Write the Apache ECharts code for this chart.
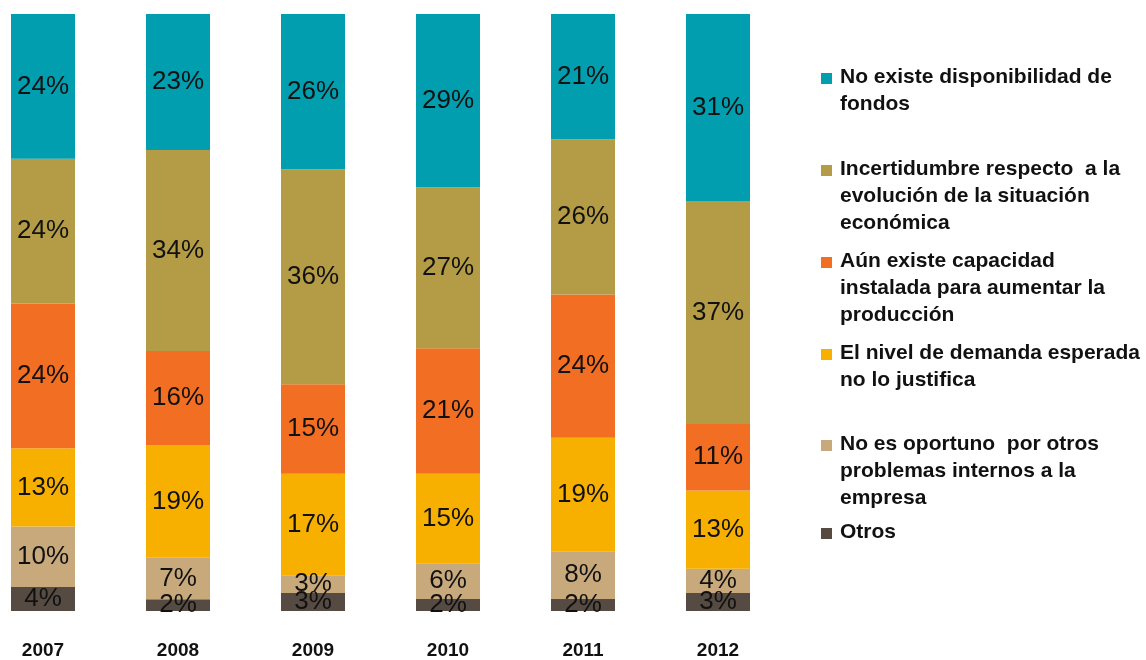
<!DOCTYPE html>
<html><head><meta charset="utf-8">
<script src="https://cdn.jsdelivr.net/npm/echarts@6/dist/echarts.min.js"></script>
<style>html,body{margin:0;padding:0;background:#fff}#c{width:1146px;height:660px}</style>
</head><body><div id="c"></div>
<script>
const years = ['2007','2008','2009','2010','2011','2012'];
const seriesNames = [
  'Otros',
  'No es oportuno por otros problemas internos a la empresa',
  'El nivel de demanda esperada no lo justifica',
  'Aún existe capacidad instalada para aumentar la producción',
  'Incertidumbre respecto a la evolución de la situación económica',
  'No existe disponibilidad de fondos'
];
const otros        = [4, 2, 3, 2, 2, 3];
const noOportuno   = [10, 7, 3, 6, 8, 4];
const nivelDemanda = [13, 19, 17, 15, 19, 13];
const capacidad    = [24, 16, 15, 21, 24, 11];
const incertidumbre= [24, 34, 36, 27, 26, 37];
const fondos       = [24, 23, 26, 29, 21, 31];
const colors = ['#554B42', '#C8A97C', '#F8B000', '#F26E22', '#B39C45', '#009EAF'];
const legendLines = [
  ['No existe disponibilidad de', 'fondos'],
  ['Incertidumbre respecto  a la', 'evolución de la situación', 'económica'],
  ['Aún existe capacidad', 'instalada para aumentar la', 'producción'],
  ['El nivel de demanda esperada', 'no lo justifica'],
  ['No es oportuno  por otros', 'problemas internos a la', 'empresa'],
  ['Otros']
];
const legendColors = ['#009EAF', '#B39C45', '#F26E22', '#F8B000', '#C8A97C', '#554B42'];
const legendTops = [79, 171, 263, 355, 446, 534];

const all = [otros, noOportuno, nivelDemanda, capacidad, incertidumbre, fondos];
const totals = years.map((_, i) => all.reduce((s, a) => s + a[i], 0));

const series = all.map((arr, k) => ({
  name: seriesNames[k],
  type: 'bar',
  stack: 'total',
  barWidth: 64,
  clip: false,
  itemStyle: { color: colors[k] },
  data: arr.map((v, i) => ({ value: v / totals[i] * 100, raw: v })),
  label: {
    show: true,
    position: 'inside',
    formatter: p => p.data.raw + '%',
    color: '#111',
    fontFamily: '"Liberation Sans", Arial, sans-serif',
    fontSize: 26
  }
}));

const graphic = [];
legendLines.forEach((lines, i) => {
  graphic.push({ type: 'rect', left: 821, top: legendTops[i] - 6, shape: { width: 11, height: 11 }, style: { fill: legendColors[i] } });
  lines.forEach((t, j) => {
    graphic.push({ type: 'text', left: 840, top: legendTops[i] + j * 27 - 12,
      style: { text: t, fill: '#111', font: 'bold 21px "Liberation Sans", Arial, sans-serif' } });
  });
});

const chart = echarts.init(document.getElementById('c'), null, { renderer: 'canvas' });
chart.setOption({
  animation: false,
  grid: { left: 43, right: 428, top: 14, bottom: 47 },
  xAxis: {
    type: 'category', data: years, boundaryGap: false,
    axisLine: { show: false }, axisTick: { show: false },
    axisLabel: { color: '#111', fontWeight: 'bold', fontSize: 19, margin: 30, fontFamily: '"Liberation Sans", Arial, sans-serif' }
  },
  yAxis: { type: 'value', min: 0, max: 100, show: false },
  series: series,
  graphic: graphic
});
</script></body></html>
